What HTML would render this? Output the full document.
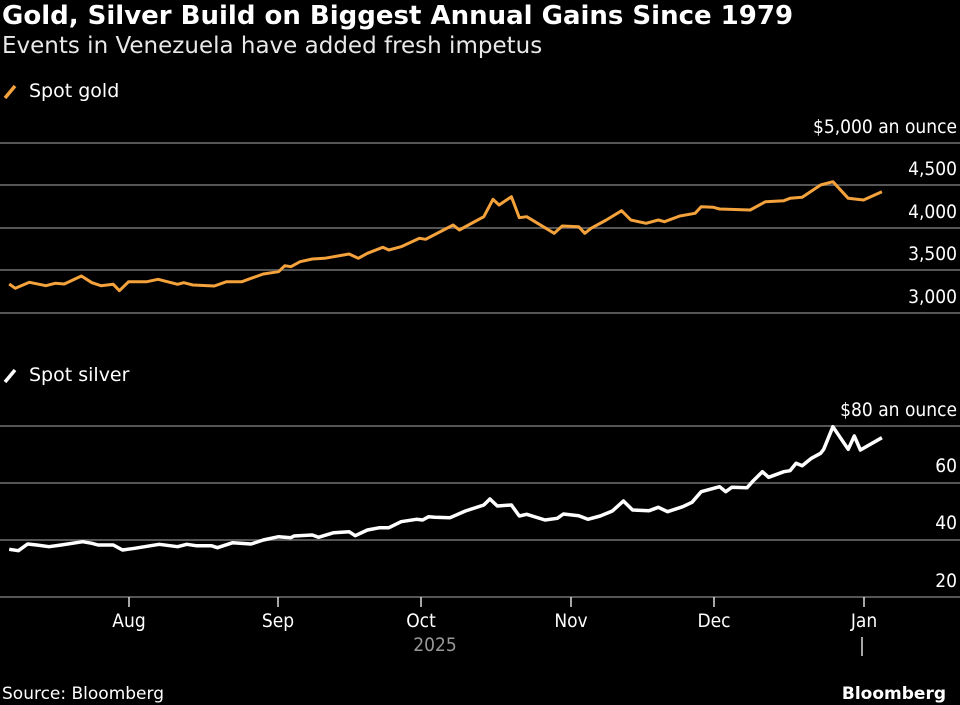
<!DOCTYPE html>
<html><head><meta charset="utf-8"><style>
body{margin:0;background:#000;width:960px;height:705px;overflow:hidden;position:relative;font-family:"DejaVu Sans","Liberation Sans",sans-serif;color:#fff}
.t{position:absolute;white-space:nowrap}
</style></head><body>
<div class="t" style="left:2px;top:1px;font-size:26px;font-weight:bold">Gold, Silver Build on Biggest Annual Gains Since 1979</div>
<div class="t" style="left:2px;top:33px;font-size:23px;color:#e8e8e8">Events in Venezuela have added fresh impetus</div>
<svg width="960" height="705" style="position:absolute;left:0;top:0" font-family="DejaVu Sans Condensed, DejaVu Sans, Liberation Sans, sans-serif">
<g stroke="#555" stroke-width="2">
<line x1="0" x2="960" y1="143" y2="143"/><line x1="0" x2="960" y1="185" y2="185"/><line x1="0" x2="960" y1="228" y2="228"/><line x1="0" x2="960" y1="270" y2="270"/><line x1="0" x2="960" y1="313" y2="313"/>
<line x1="0" x2="960" y1="426" y2="426"/><line x1="0" x2="960" y1="483" y2="483"/><line x1="0" x2="960" y1="540" y2="540"/><line x1="0" x2="960" y1="597" y2="597"/>
</g>
<g stroke="#ddd" stroke-width="1.5">
<line x1="129" x2="129" y1="597" y2="607"/><line x1="278" x2="278" y1="597" y2="607"/><line x1="421" x2="421" y1="597" y2="607"/><line x1="571" x2="571" y1="597" y2="607"/><line x1="714" x2="714" y1="597" y2="607"/><line x1="864" x2="864" y1="597" y2="607"/><line x1="862" x2="862" y1="637" y2="656"/>
</g>
<g fill="#fff" font-size="19" text-anchor="end">
<text x="957" y="133">$5,000 an ounce</text><text x="957" y="175">4,500</text><text x="957" y="218">4,000</text><text x="957" y="260">3,500</text><text x="957" y="303">3,000</text>
<text x="957" y="416">$80 an ounce</text><text x="957" y="472">60</text><text x="957" y="529">40</text><text x="957" y="587">20</text>
</g>
<g fill="#fff" font-size="19" text-anchor="middle">
<text x="129" y="627">Aug</text><text x="278" y="627">Sep</text><text x="421" y="627">Oct</text><text x="571" y="627">Nov</text><text x="714" y="627">Dec</text><text x="864" y="627">Jan</text>
<text x="435" y="651" fill="#999">2025</text>
</g>
<line x1="5" y1="98" x2="15" y2="86" stroke="#f4a23c" stroke-width="3.5"/>
<text x="29" y="97" fill="#fff" font-size="19" font-family="DejaVu Sans, sans-serif">Spot gold</text>
<line x1="5" y1="382" x2="15" y2="370" stroke="#fff" stroke-width="3.5"/>
<text x="29" y="381" fill="#fff" font-size="19" font-family="DejaVu Sans, sans-serif">Spot silver</text>
<polyline id="g" fill="none" stroke="#f4a23c" stroke-width="3" stroke-linejoin="round"/>
<polyline id="s" fill="none" stroke="#fff" stroke-width="3.5" stroke-linejoin="round"/>
<text x="2" y="699" fill="#fff" font-size="17" font-family="DejaVu Sans, sans-serif">Source: Bloomberg</text>
<text x="946" y="699" fill="#fff" font-size="17" font-weight="bold" text-anchor="end" font-family="DejaVu Sans, sans-serif">Bloomberg</text>
</svg>
<script>
var G=[15,522,25,535,48,517,75,527,90,520,105,522,133,498,150,518,165,527,185,523,195,542,210,515,240,515,258,508,290,523,300,518,315,525,350,528,370,515,395,515,410,505,430,492,455,485,465,467,475,470,490,455,510,447,530,445,570,432,585,445,600,430,625,412,635,420,655,410,685,385,695,388,740,345,750,360,790,320,805,268,815,285,835,260,848,323,860,320,905,370,918,348,945,350,955,370,965,355,990,330,1015,302,1030,330,1055,340,1075,330,1085,335,1110,318,1135,310,1145,290,1165,292,1175,297,1225,300,1250,275,1280,272,1290,265,1310,262,1340,225,1360,215,1385,265,1410,270,1440,245];
var S=[15,448,30,452,45,432,60,435,80,440,100,435,135,425,150,430,160,435,185,435,200,450,220,445,260,433,290,440,305,433,320,437,345,437,355,443,380,428,410,432,430,420,455,410,475,413,480,408,510,405,520,412,545,398,570,395,580,407,600,390,620,383,635,383,655,365,680,358,690,360,700,350,710,352,735,353,760,333,790,315,800,297,812,318,835,315,848,348,860,343,890,360,910,355,920,342,945,347,960,358,980,348,1000,333,1018,303,1033,330,1060,332,1075,322,1090,335,1115,320,1130,307,1145,275,1175,260,1185,275,1195,262,1220,263,1230,242,1245,215,1255,232,1280,215,1290,212,1300,190,1310,197,1325,175,1340,160,1345,148,1360,80,1385,148,1395,108,1405,150,1440,113];
function p(a,oy){var r=[];for(var i=0;i<a.length;i+=2)r.push((a[i]*0.6124).toFixed(1)+','+(oy+a[i+1]/3).toFixed(1));return r.join(' ');}
document.getElementById('g').setAttribute('points',p(G,110));
document.getElementById('s').setAttribute('points',p(S,400));
</script>
</body></html>
